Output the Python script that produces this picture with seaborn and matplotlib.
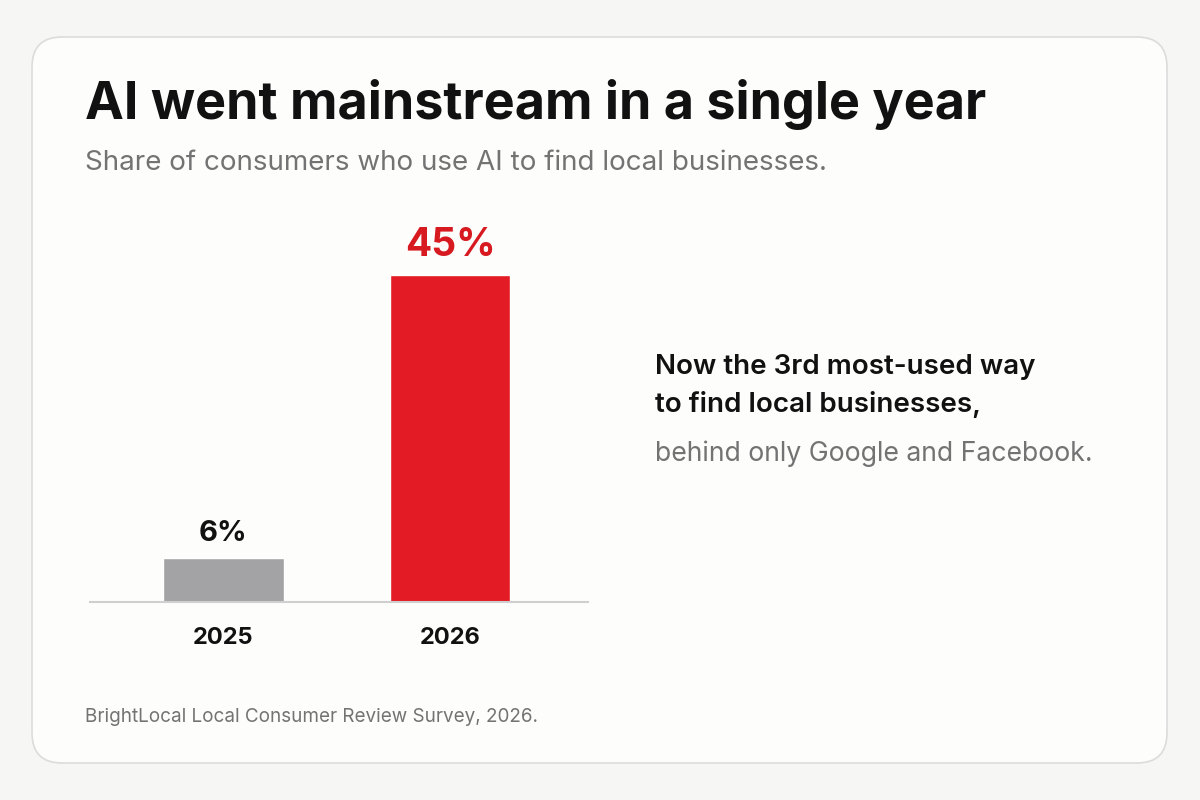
import matplotlib
matplotlib.use("Agg")
import matplotlib.pyplot as plt
from matplotlib.patches import FancyBboxPatch
import seaborn as sns
import pandas as pd

years = ["2025", "2026"]
shares = [6, 45]
bar_colors = ["#a3a3a5", "#e31b24"]
label_colors = ["#111111", "#d71920"]

sns.set_style("white")
plt.rcParams['font.family'] = ['Inter', 'DejaVu Sans']

fig = plt.figure(figsize=(12, 8), dpi=100, facecolor="#f6f6f4")
card = FancyBboxPatch((32 / 1200, 37 / 800), 1135 / 1200, 726 / 800,
                      boxstyle="round,pad=0,rounding_size=0.025",
                      transform=fig.transFigure, facecolor="#fdfdfc",
                      edgecolor="#dcdcdc", linewidth=1.2, mutation_aspect=1.5,
                      zorder=-10)
fig.patches.append(card)

fig.text(85 / 1200, 1 - 105 / 800, "AI went mainstream in a single year",
         fontsize=37.5, fontweight="bold", color="#111111", va="center")
fig.text(85 / 1200, 1 - 163 / 800, "Share of consumers who use AI to find local businesses.",
         fontsize=20, color="#737373", va="center")

ax = fig.add_axes([90 / 1200, 1 - 602 / 800, 498 / 1200, 402 / 800])
ax.set_zorder(5)
df = pd.DataFrame({"year": years, "share": shares})
sns.barplot(data=df, x="year", y="share", hue="year", palette=bar_colors,
            width=0.533, legend=False, ax=ax, saturation=1)
ax.set_xlim(-0.586, 1.608)
ax.set_ylim(0, 45 * 402 / 327)
ax.set_facecolor("none")
for s in ["top", "right", "left"]:
    ax.spines[s].set_visible(False)
ax.spines["bottom"].set_color("#cfcfcf")
ax.spines["bottom"].set_linewidth(1.5)
ax.set_yticks([])
ax.set_xlabel("")
ax.set_ylabel("")
ax.tick_params(axis="x", length=0, pad=18)
for t in ax.get_xticklabels():
    t.set_fontsize(17)
    t.set_fontweight("bold")
    t.set_color("#111111")

sizes = [21, 28]
for i, (v, c, fs) in enumerate(zip(shares, label_colors, sizes)):
    ax.annotate(f"{v}%", (i, v), xytext=(0, 8), textcoords="offset points",
                ha="center", va="bottom", fontsize=fs, fontweight="bold", color=c)

fig.text(655 / 1200, 1 - 367 / 800, "Now the 3rd most-used way",
         fontsize=20, fontweight="semibold", color="#111111", va="center")
fig.text(655 / 1200, 1 - 404 / 800, "to find local businesses,",
         fontsize=20, fontweight="semibold", color="#111111", va="center")
fig.text(655 / 1200, 1 - 454 / 800, "behind only Google and Facebook.",
         fontsize=19.2, color="#737373", va="center")

fig.text(85 / 1200, 1 - 717 / 800, "BrightLocal Local Consumer Review Survey, 2026.",
         fontsize=13.6, color="#737373", va="center")

fig.savefig("out.png", dpi=100, facecolor=fig.get_facecolor())
